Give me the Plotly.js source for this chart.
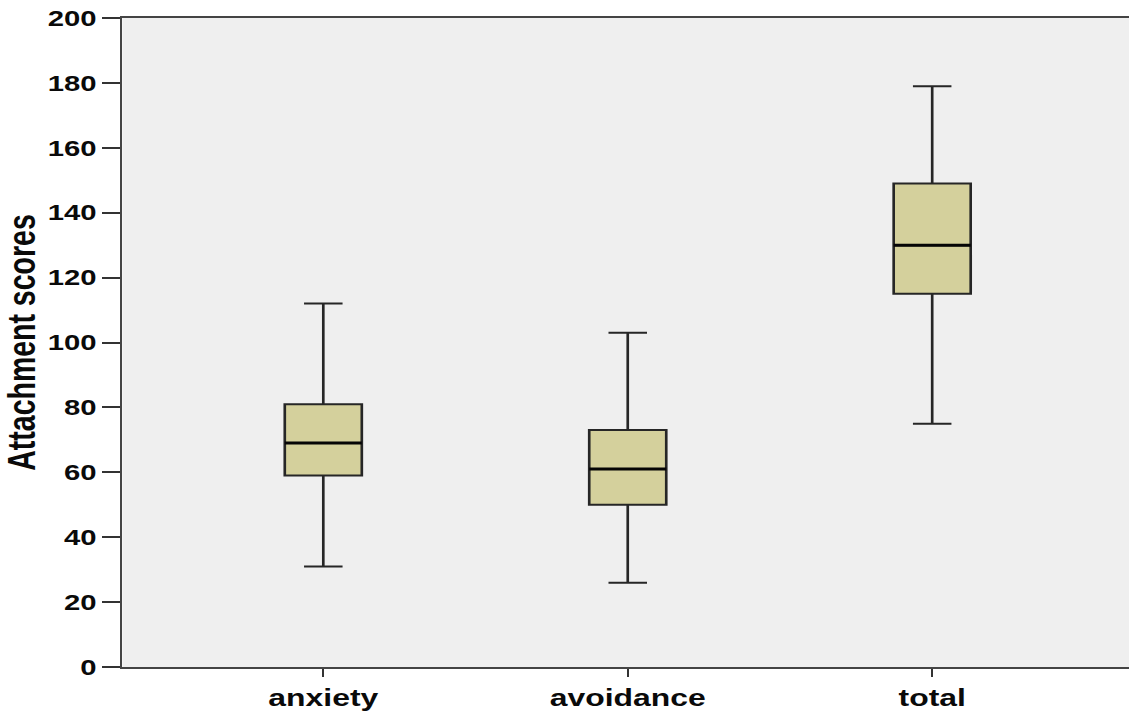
<!DOCTYPE html>
<html>
<head>
<meta charset="utf-8">
<script src="https://cdn.plot.ly/plotly-3.0.1.min.js"></script>
<style>
  html, body { margin: 0; padding: 0; background: #ffffff; overflow: hidden; }
  #wrap { width: 1129px; height: 711px; overflow: hidden; }
  #chart { transform-origin: 0 0; }
</style>
</head>
<body>
<div id="wrap"><div id="chart"></div></div>
<script>
// Attachment score summaries per scale
const categories = ['anxiety', 'avoidance', 'total'];
const lowerWhisker = [31, 26, 75];
const q1Values = [59, 50, 115];
const medianValues = [69, 61, 130];
const q3Values = [81, 73, 149];
const upperWhisker = [112, 103, 179];
const yTickValues = [0, 20, 40, 60, 80, 100, 120, 140, 160, 180, 200];

// The figure is laid out on a narrower canvas and widened horizontally
const STRETCH = 1.33;
const W = Math.round(1129 / STRETCH);
const H = 711;
const BOX_WIDTH = 0.253;

const chartEl = document.getElementById('chart');
chartEl.style.width = W + 'px';
chartEl.style.height = H + 'px';
chartEl.style.transform = 'scaleX(' + STRETCH + ')';

const FONT = '"Liberation Sans", Arial, sans-serif';

// Boxes with whiskers
const boxes = {
  type: 'box',
  x: categories,
  q1: q1Values,
  median: medianValues,
  q3: q3Values,
  lowerfence: lowerWhisker,
  upperfence: upperWhisker,
  boxpoints: false,
  width: BOX_WIDTH,
  fillcolor: '#d4d09c',
  line: { color: '#262626', width: 2 },
  whiskerwidth: 0.5,
  hoverinfo: 'skip',
  showlegend: false
};

// Heavier median bars drawn on top of the boxes
const medians = {
  type: 'box',
  x: categories,
  q1: medianValues,
  median: medianValues,
  q3: medianValues,
  lowerfence: medianValues,
  upperfence: medianValues,
  boxpoints: false,
  width: BOX_WIDTH,
  fillcolor: 'rgba(0,0,0,0)',
  line: { color: '#050505', width: 3 },
  whiskerwidth: 0,
  hoverinfo: 'skip',
  showlegend: false
};

const layout = {
  width: W,
  height: H,
  margin: { l: 92, r: 0, t: 18, b: 44, pad: 0 },
  paper_bgcolor: '#ffffff',
  plot_bgcolor: '#efefef',
  boxmode: 'overlay',
  showlegend: false,
  font: { family: FONT, color: '#111111' },
  xaxis: {
    type: 'category',
    range: [-0.66, 2.647],
    showgrid: false,
    zeroline: false,
    showline: true,
    linecolor: '#444444',
    linewidth: 2,
    mirror: true,
    ticks: 'outside',
    ticklen: 8,
    tickwidth: 1.5,
    tickcolor: '#333333',
    tickfont: { family: FONT, size: 24, color: '#0a0a0a', weight: 'bold' },
    automargin: false
  },
  yaxis: {
    range: [0, 200],
    tickvals: yTickValues,
    ticktext: yTickValues.map(String),
    showgrid: false,
    zeroline: false,
    showline: true,
    linecolor: '#444444',
    linewidth: 2,
    ticks: 'outside',
    ticklen: 13,
    tickwidth: 2,
    tickcolor: '#333333',
    tickfont: { family: FONT, size: 22, color: '#0a0a0a', weight: 'bold' },
    automargin: false,
    title: {
      text: '<b>Attachment scores</b>',
      font: { family: FONT, size: 28.5, color: '#0a0a0a' },
      standoff: 2
    }
  }
};

Plotly.newPlot(chartEl, [boxes, medians], layout, { displayModeBar: false, staticPlot: true });
</script>
</body>
</html>
